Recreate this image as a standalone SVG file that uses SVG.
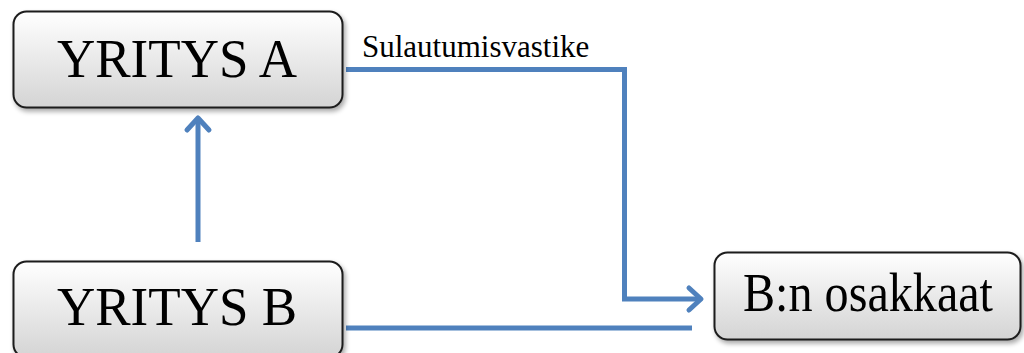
<svg xmlns="http://www.w3.org/2000/svg" width="1024" height="353" viewBox="0 0 1024 353">
  <style>
    .box { fill: url(#boxFill); stroke: #1c1c1c; stroke-width: 2; filter: url(#shadow); }
    .label { font-family: 'Liberation Serif', 'Times New Roman', Tinos, 'DejaVu Serif', serif; fill: #000; text-anchor: middle; }
    .big { font-size: 54px; }
    .small { font-size: 31px; text-anchor: start; }
    .link { fill: none; stroke: #4f81bd; stroke-width: 5; }
    .head { fill: none; stroke: #4f81bd; stroke-width: 5; stroke-linecap: round; stroke-linejoin: round; }
  </style>
  <defs>
    <linearGradient id="boxFill" x1="0" y1="0" x2="0" y2="1">
      <stop offset="0" stop-color="#ffffff"/>
      <stop offset="1" stop-color="#d4d4d4"/>
    </linearGradient>
    <filter id="shadow" x="-10%" y="-10%" width="130%" height="140%">
      <feGaussianBlur in="SourceAlpha" stdDeviation="2.5"/>
      <feOffset dx="2" dy="3" result="b"/>
      <feComponentTransfer><feFuncA type="linear" slope="0.35"/></feComponentTransfer>
      <feMerge><feMergeNode/><feMergeNode in="SourceGraphic"/></feMerge>
    </filter>
  </defs>

  <rect width="1024" height="353" fill="#ffffff"/>

  <g id="connectors">
    <!-- A -> shareholders of B (merger consideration) -->
    <polyline class="link" points="346,69.5 624.5,69.5 624.5,299 700,299"/>
    <polyline class="head" points="689,288 701,299 689,310"/>
    <!-- B -> shareholders of B -->
    <line class="link" x1="346" y1="328" x2="692" y2="328"/>
    <!-- B -> A -->
    <line class="link" x1="198" y1="242" x2="198" y2="120"/>
    <polyline class="head" points="187,130 198,118 209,130"/>
    <text class="label small" x="362" y="57" font-family="Liberation Serif, serif">Sulautumisvastike</text>
  </g>

  <g id="yritys-a">
    <rect class="box" x="13.5" y="11.5" width="329" height="96" rx="13"/>
    <text class="label big" x="177" y="77" font-family="Liberation Serif, serif" textLength="240" lengthAdjust="spacingAndGlyphs">YRITYS A</text>
  </g>

  <g id="yritys-b">
    <rect class="box" x="13.5" y="261.5" width="329" height="96" rx="13"/>
    <text class="label big" x="177" y="325" font-family="Liberation Serif, serif" textLength="240" lengthAdjust="spacingAndGlyphs">YRITYS B</text>
  </g>

  <g id="b-osakkaat">
    <rect class="box" x="714.5" y="252.5" width="306" height="87" rx="13"/>
    <text class="label big" x="868" y="311" font-family="Liberation Serif, serif" textLength="250" lengthAdjust="spacingAndGlyphs">B:n osakkaat</text>
  </g>
</svg>
